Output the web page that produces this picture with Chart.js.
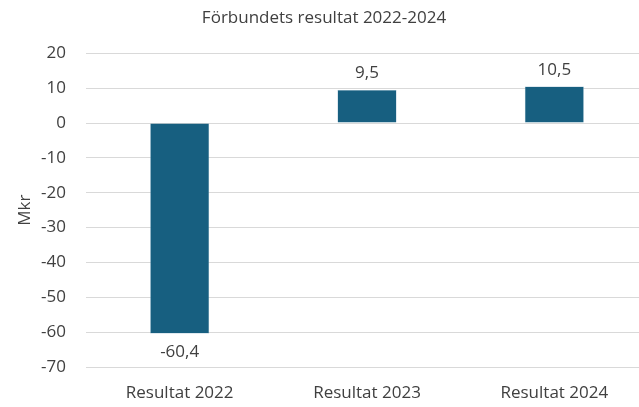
<!DOCTYPE html>
<html>
<head>
<meta charset="utf-8">
<script src="https://cdn.jsdelivr.net/npm/chart.js@4"></script>
<style>
  body { margin: 0; background: #fff; overflow: hidden; }
  .wrap { width: 648px; height: 407px; position: relative; }
</style>
</head>
<body>
<div class="wrap"><canvas id="chart"></canvas></div>
<script>
const categories = ['Resultat 2022', 'Resultat 2023', 'Resultat 2024'];
const results = [-60.4, 9.5, 10.5];
const chartTitle = 'Förbundets resultat 2022-2024';
const yTitle = 'Mkr';

const FONT = "'Open Sans', 'Liberation Sans', sans-serif";
const TEXT = '#404040';

// draws the value above (or below, for negatives) each bar
const barLabels = {
  id: 'barLabels',
  afterDatasetsDraw(chart) {
    const ctx = chart.ctx;
    const meta = chart.getDatasetMeta(0);
    ctx.save();
    ctx.font = '17px ' + FONT;
    ctx.fillStyle = TEXT;
    ctx.textAlign = 'center';
    meta.data.forEach((bar, i) => {
      const v = results[i];
      const txt = v.toFixed(1).replace('.', ',');
      if (v >= 0) {
        ctx.textBaseline = 'alphabetic';
        ctx.fillText(txt, bar.x, bar.y - 12);
      } else {
        ctx.textBaseline = 'top';
        ctx.fillText(txt, bar.x, bar.y + 10);
      }
    });
    ctx.restore();
  }
};

new Chart(document.getElementById('chart'), {
  type: 'bar',
  data: {
    labels: categories,
    datasets: [{
      data: results,
      backgroundColor: '#175F80',
      borderColor: '#7FA9BE',
      borderWidth: 0.5,
      barPercentage: 0.63,
      categoryPercentage: 0.5,
    }],
  },
  options: {
    responsive: true,
    maintainAspectRatio: false,
    animation: false,
    layout: { padding: { top: 8, right: 0, bottom: 0, left: 0 } },
    plugins: {
      legend: { display: false },
      tooltip: { enabled: false },
      title: {
        display: true,
        text: chartTitle,
        color: TEXT,
        font: { family: FONT, size: 17, weight: 'normal' },
        padding: { top: 0, bottom: 25 },
      },
    },
    scales: {
      x: {
        grid: { display: false, drawTicks: false },
        border: { display: false },
        ticks: { color: TEXT, font: { family: FONT, size: 17 }, padding: 16 },
        afterFit(scale) { scale.height = 40; },
      },
      y: {
        min: -70,
        max: 20,
        ticks: {
          stepSize: 10,
          color: TEXT,
          font: { family: FONT, size: 17 },
          padding: 20,
        },
        grid: { color: '#d9d9d9', lineWidth: 1, drawTicks: false },
        border: { display: false },
        title: {
          display: true,
          text: yTitle,
          color: TEXT,
          font: { family: FONT, size: 17 },
          padding: { top: 15, bottom: 0 },
        },
        afterFit(scale) { scale.width = 86; },
      },
    },
  },
  plugins: [barLabels],
});
</script>
</body>
</html>
